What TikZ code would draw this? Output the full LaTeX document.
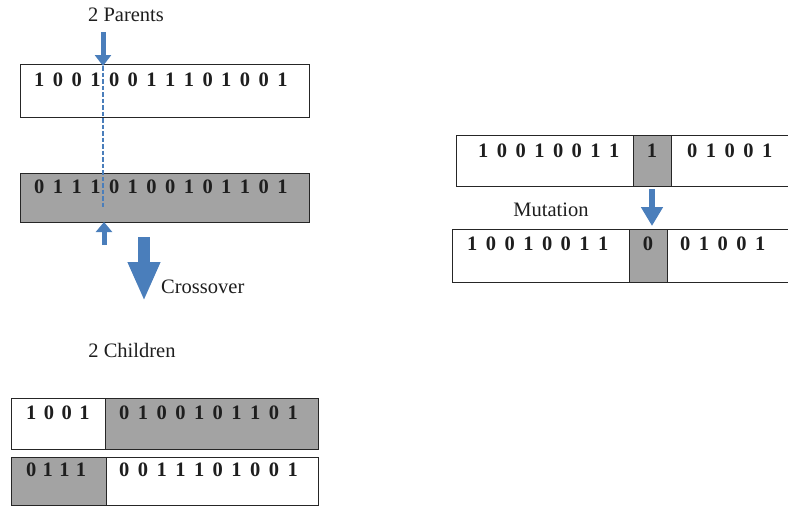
\documentclass[tikz,border=0pt]{standalone}
\usepackage{fontspec}
\setmainfont{Liberation Serif}
\newfontfamily\bitfont{Liberation Serif}[WordSpace=1.65]
\usetikzlibrary{arrows.meta}
\definecolor{cellgray}{RGB}{163,163,163}
\definecolor{arrblue}{RGB}{74,126,187}
\definecolor{txt}{RGB}{30,30,30}
\begin{document}
\begin{tikzpicture}[x=1pt,y=-1pt,
  box/.style={draw=black!85,line width=1pt,inner sep=0pt,outer sep=0pt},
  shade/.style={box,fill=cellgray},
  bits/.style={font=\bitfont\bfseries\fontsize{20.5}{20}\selectfont,text=txt,inner sep=0pt,anchor=base west},
  bitc/.style={bits,anchor=base},
  lbl/.style={font=\fontsize{20.5}{20}\selectfont,text=txt,inner sep=0pt},
  blk/.style={draw=arrblue,fill=arrblue}]
\useasboundingbox (0,0) rectangle (788,506);
\clip (0,0) rectangle (788,506);
% Parents
\node[lbl] (lpar) at (126,15) {2 Parents};
\node[box,minimum width=289pt,minimum height=53pt] (p1) at (164.5,90.5) {};
\node[shade,minimum width=289pt,minimum height=49pt] (p2) at (164.5,197.5) {};
\node[bits] (p1t) at (34,86) {1 0 0 1 0 0 1 1 1 0 1 0 0 1};
\node[bits] (p2t) at (34,193) {0 1 1 1 0 1 0 0 1 0 1 1 0 1};
\coordinate (a1s) at (103,32);
\coordinate (a1e) at (103,66);
\draw[blk,line width=5pt,-{Triangle[width=16pt,length=11pt]}] (a1s) -- (a1e);
\coordinate (d2) at (103,207);
\draw[arrblue,line width=1.6pt,dash pattern=on 4.5pt off 2pt] (a1e) -- (d2);
\coordinate (a2s) at (104,245);
\coordinate (a2e) at (104,222);
\draw[blk,line width=5pt,-{Triangle[width=16pt,length=10pt]}] (a2s) -- (a2e);
\coordinate (a3s) at (144,237);
\coordinate (a3e) at (144,301);
\draw[blk,line width=12pt,-{Triangle[width=30pt,length=39pt]}] (a3s) -- (a3e);
\node[lbl,anchor=west] (lcross) at (161,287) {Crossover};
% Children
\node[lbl] (lchild) at (132,350) {2 Children};
\node[box,minimum width=94pt,minimum height=51pt] (c1a) at (58,423.5) {};
\node[shade,minimum width=213pt,minimum height=51pt] (c1b) at (211.5,423.5) {};
\node[shade,minimum width=95pt,minimum height=48pt] (c2a) at (58.5,481) {};
\node[box,minimum width=212pt,minimum height=48pt] (c2b) at (212,481) {};
\node[bits] (c1at) at (26,419) {1\hspace{7.5pt}0\hspace{7.5pt}0\hspace{7.5pt}1};
\node[bits] (c1bt) at (119,419) {0 1 0 0 1 0 1 1 0 1};
\node[bits] (c2at) at (26,476) {0\hspace{6.3pt}1\hspace{6.3pt}1\hspace{6.3pt}1};
\node[bits] (c2bt) at (119,476) {0 0 1 1 1 0 1 0 0 1};
% Mutation
\node[box,minimum width=344pt,minimum height=51pt] (m1) at (628,160.5) {};
\node[shade,minimum width=38pt,minimum height=51pt] (m1c) at (652,160.5) {};
\node[bits] (m1a) at (478,157) {1 0 0 1 0 0 1 1};
\node[bitc] (m1b) at (652,157) {1};
\node[bits] (m1d) at (687,157) {0 1 0 0 1};
\coordinate (a4s) at (652,189);
\coordinate (a4e) at (652,226);
\draw[blk,line width=6pt,-{Triangle[width=21pt,length=19pt]}] (a4s) -- (a4e);
\node[lbl] (lmut) at (551,210) {Mutation};
\node[box,minimum width=348pt,minimum height=53pt] (m2) at (626,255.5) {};
\node[shade,minimum width=38pt,minimum height=53pt] (m2c) at (648,255.5) {};
\node[bits] (m2a) at (467,250) {1 0 0 1 0 0 1 1};
\node[bitc] (m2b) at (648,250) {0};
\node[bits] (m2d) at (680,250) {0 1 0 0 1};
\end{tikzpicture}
\end{document}
